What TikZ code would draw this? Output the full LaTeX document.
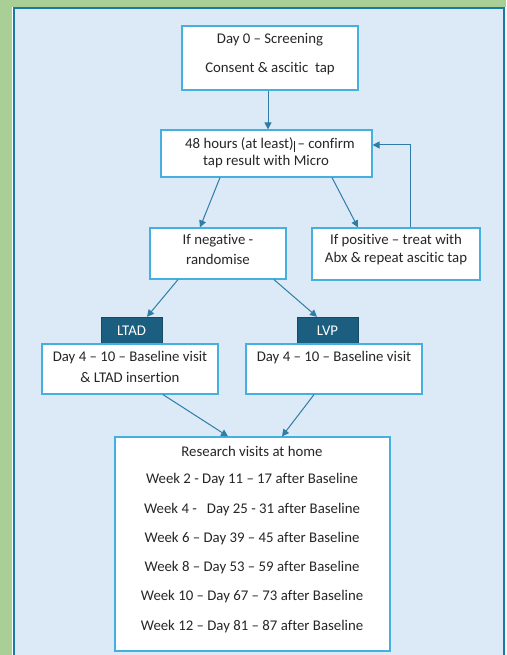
\documentclass[tikz,border=0pt]{standalone}
\usepackage{fontspec}
\setmainfont{Carlito}[Ligatures={NoCommon}]
\usetikzlibrary{arrows.meta}
\definecolor{bggreen}{HTML}{A9CF96}
\definecolor{panelfill}{HTML}{DCE9F6}
\definecolor{panelline}{HTML}{1A7BA0}
\definecolor{boxline}{HTML}{45B0E0}
\definecolor{arrowc}{HTML}{2F7DA6}
\definecolor{labfill}{HTML}{1C5E80}
\definecolor{txt}{HTML}{262626}
\tikzset{
  box/.style={draw=boxline, line width=1.2pt, fill=white, inner sep=0pt, text=txt},
  lab/.style={draw=labfill!80!black, fill=labfill, text=white, inner sep=0pt, font=\fontsize{14.8}{16}\selectfont},
  arr/.style={draw=arrowc, line width=1pt, -{Triangle[length=7pt,width=7pt]}},
  txtn/.style={text=txt, font=\fontsize{14.8}{16}\selectfont, inner sep=0pt}
}
\begin{document}
\begin{tikzpicture}[x=1pt,y=-1pt]
\useasboundingbox (0,0) rectangle (506,655);
\fill[bggreen] (0,0) rectangle (506,655);
\fill[white] (12,7) rectangle (506,655);
\filldraw[fill=panelfill, draw=panelline, line width=2pt] (14,8) rectangle (504,670);
% boxes
\node[box, minimum width=176pt, minimum height=64pt] (b1) at (270,58) {};
\node[txtn] (t1a) at (270,40) {Day 0 – Screening};
\node[txtn] (t1b) at (270,69) {Consent \& ascitic\ \ tap};
\node[box, minimum width=211pt, minimum height=47pt] (b2) at (266.5,153.5) {};
\node[txtn] (t2a) at (270,145) {48 hours (at least)\rule[-3pt]{0.6pt}{11pt} – confirm};
\node[txtn] (t2b) at (266,162) {tap result with Micro};
\node[box, minimum width=136pt, minimum height=51pt] (b3) at (218,253.5) {};
\node[txtn] (t3a) at (218,241) {If negative -};
\node[txtn] (t3b) at (218,259) {randomise};
\node[box, minimum width=168pt, minimum height=52pt] (b4) at (396,254) {};
\node[txtn] (t4a) at (396,241) {If positive – treat with};
\node[txtn] (t4b) at (396,259) {Abx \& repeat ascitic tap};
\node[lab, minimum width=61pt, minimum height=27pt] (l1) at (131.5,330.5) {LTAD};
\node[lab, minimum width=61pt, minimum height=27pt] (l2) at (327.5,330.5) {LVP};
\node[box, minimum width=176pt, minimum height=50pt] (b5) at (130,369) {};
\node[txtn] (t5a) at (130,358) {Day 4 – 10 – Baseline visit};
\node[txtn] (t5b) at (130,377) {\& LTAD insertion};
\node[box, minimum width=176pt, minimum height=50pt] (b6) at (334,369) {};
\node[txtn] (t6a) at (334,358) {Day 4 – 10 – Baseline visit};
\node[box, minimum width=275pt, minimum height=214pt] (b7) at (252.5,544) {};
\node[txtn] (t7a) at (252,451) {Research visits at home};
\node[txtn] (t7b) at (252,480) {Week 2 - Day 11 – 17 after Baseline};
\node[txtn] (t7c) at (252,510) {Week 4 -\ \ \ Day 25 - 31 after Baseline};
\node[txtn] (t7d) at (252,539) {Week 6 – Day 39 – 45 after Baseline};
\node[txtn] (t7e) at (252,568) {Week 8 – Day 53 – 59 after Baseline};
\node[txtn] (t7f) at (252,597) {Week 10 – Day 67 – 73 after Baseline};
\node[txtn] (t7g) at (252,627) {Week 12 – Day 81 – 87 after Baseline};
% connectors
\draw[arr] (b1.south -| 268,0) -- (b2.north -| 268,0);
\draw[arr] (b2.south -| 220,0) -- (b3.north -| 200,0);
\draw[arr] (b2.south -| 332,0) -- (b4.north -| 358,0);
\draw[arr] (b4.north -| 410,0) -- (410,145) -- (b2.east |- 0,145);
\draw[arr] (b3.south -| 178,0) -- (l1.north -| 147,0);
\draw[arr] (b3.south -| 274,0) -- (l2.north -| 317,0);
\draw[arr] (b5.south -| 163,0) -- (b7.north -| 228,0);
\draw[arr] (b6.south -| 314,0) -- (b7.north -| 282,0);
\end{tikzpicture}
\end{document}
